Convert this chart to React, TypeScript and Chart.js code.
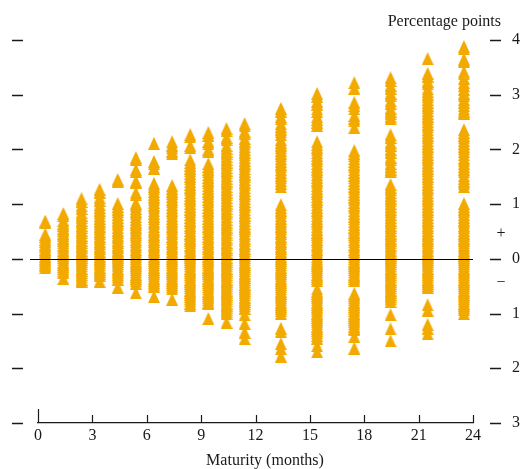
import React, { useEffect, useRef } from "react";
import { Chart, registerables } from "chart.js";
Chart.register(...registerables);

// Maturity (months) of each column of points
const maturities = [0.4, 1.4, 2.4, 3.4, 4.4, 5.4, 6.4, 7.4, 8.4, 9.4, 10.4, 11.4, 13.4, 15.4, 17.45, 19.45, 21.5, 23.5];

// Values (percentage points) in each column
const col01 = [0.69, 0.66, 0.45, 0.41, 0.36, 0.32, 0.27, 0.23, 0.18, 0.14, 0.1, 0.05, 0.01, -0.03, -0.07, -0.1, -0.13, -0.16];
const col02 = [0.83, 0.79, 0.7, 0.65, 0.61, 0.56, 0.52, 0.47, 0.43, 0.38, 0.34, 0.29, 0.25, 0.2, 0.16, 0.11, 0.07, 0.02, -0.02, -0.06, -0.1, -0.14, -0.18, -0.22, -0.25, -0.36];
const col03 = [1.1, 1.05, 0.97, 0.92, 0.84, 0.8, 0.75, 0.7, 0.66, 0.61, 0.57, 0.52, 0.48, 0.43, 0.39, 0.34, 0.3, 0.25, 0.21, 0.16, 0.12, 0.07, 0.03, -0.01, -0.05, -0.09, -0.13, -0.17, -0.21, -0.25, -0.29, -0.33, -0.37, -0.41];
const col04 = [1.27, 1.22, 1.12, 1.07, 0.99, 0.94, 0.89, 0.84, 0.79, 0.74, 0.69, 0.64, 0.6, 0.55, 0.5, 0.46, 0.41, 0.37, 0.32, 0.28, 0.23, 0.19, 0.14, 0.1, 0.05, 0.01, -0.03, -0.07, -0.11, -0.15, -0.19, -0.23, -0.27, -0.3, -0.41];
const col05 = [1.45, 1.42, 1.01, 0.96, 0.91, 0.86, 0.81, 0.76, 0.71, 0.66, 0.62, 0.57, 0.52, 0.48, 0.43, 0.39, 0.34, 0.3, 0.25, 0.21, 0.16, 0.12, 0.07, 0.03, -0.01, -0.05, -0.09, -0.13, -0.17, -0.21, -0.25, -0.29, -0.33, -0.37, -0.52];
const col06 = [1.85, 1.82, 1.63, 1.6, 1.42, 1.39, 1.21, 1.17, 1.02, 0.97, 0.92, 0.87, 0.82, 0.77, 0.72, 0.67, 0.63, 0.58, 0.53, 0.49, 0.44, 0.4, 0.35, 0.31, 0.26, 0.22, 0.17, 0.13, 0.08, 0.04, 0.0, -0.04, -0.08, -0.12, -0.16, -0.2, -0.24, -0.28, -0.32, -0.36, -0.4, -0.45, -0.62];
const col07 = [2.11, 1.78, 1.74, 1.66, 1.38, 1.33, 1.28, 1.23, 1.18, 1.13, 1.08, 1.03, 0.98, 0.93, 0.88, 0.83, 0.78, 0.73, 0.68, 0.64, 0.59, 0.54, 0.5, 0.45, 0.41, 0.36, 0.32, 0.27, 0.23, 0.18, 0.14, 0.09, 0.05, 0.01, -0.03, -0.07, -0.11, -0.15, -0.19, -0.23, -0.27, -0.31, -0.35, -0.39, -0.43, -0.47, -0.5, -0.69];
const col08 = [2.14, 2.08, 2.03, 1.97, 1.92, 1.34, 1.29, 1.24, 1.19, 1.14, 1.09, 1.04, 0.99, 0.94, 0.89, 0.84, 0.79, 0.74, 0.69, 0.64, 0.6, 0.55, 0.5, 0.46, 0.41, 0.37, 0.32, 0.28, 0.23, 0.19, 0.14, 0.1, 0.05, 0.01, -0.03, -0.07, -0.11, -0.15, -0.19, -0.23, -0.27, -0.31, -0.35, -0.39, -0.43, -0.47, -0.51, -0.55, -0.74];
const col09 = [2.27, 2.23, 2.07, 2.03, 1.81, 1.76, 1.71, 1.66, 1.61, 1.56, 1.51, 1.46, 1.41, 1.36, 1.31, 1.26, 1.21, 1.16, 1.11, 1.06, 1.01, 0.96, 0.91, 0.86, 0.81, 0.76, 0.71, 0.66, 0.61, 0.57, 0.52, 0.47, 0.43, 0.38, 0.34, 0.29, 0.25, 0.2, 0.16, 0.11, 0.07, 0.03, -0.01, -0.05, -0.09, -0.13, -0.17, -0.21, -0.25, -0.29, -0.33, -0.37, -0.41, -0.45, -0.49, -0.53, -0.57, -0.61, -0.65, -0.69, -0.73, -0.77, -0.81, -0.86];
const col10 = [2.31, 2.26, 2.15, 2.1, 2.0, 1.96, 1.74, 1.69, 1.64, 1.59, 1.54, 1.49, 1.44, 1.39, 1.34, 1.29, 1.24, 1.19, 1.14, 1.09, 1.04, 0.99, 0.94, 0.89, 0.84, 0.79, 0.74, 0.69, 0.64, 0.6, 0.55, 0.5, 0.46, 0.41, 0.37, 0.32, 0.28, 0.23, 0.19, 0.14, 0.1, 0.05, 0.01, -0.03, -0.07, -0.11, -0.15, -0.19, -0.23, -0.27, -0.31, -0.35, -0.39, -0.43, -0.47, -0.51, -0.55, -0.59, -0.63, -0.67, -0.71, -0.75, -0.79, -0.82, -1.09];
const col11 = [2.38, 2.34, 2.22, 2.18, 2.07, 2.02, 1.97, 1.92, 1.87, 1.82, 1.77, 1.72, 1.67, 1.62, 1.57, 1.52, 1.47, 1.42, 1.37, 1.32, 1.27, 1.22, 1.17, 1.12, 1.07, 1.02, 0.97, 0.92, 0.87, 0.82, 0.77, 0.72, 0.67, 0.62, 0.58, 0.53, 0.48, 0.44, 0.39, 0.35, 0.3, 0.26, 0.21, 0.17, 0.12, 0.08, 0.03, -0.01, -0.05, -0.09, -0.13, -0.17, -0.21, -0.25, -0.29, -0.33, -0.37, -0.41, -0.45, -0.49, -0.53, -0.57, -0.61, -0.65, -0.69, -0.73, -0.77, -0.81, -0.85, -0.89, -0.93, -0.97, -1.0, -1.16];
const col12 = [2.47, 2.43, 2.33, 2.29, 2.2, 2.15, 2.1, 2.05, 2.0, 1.95, 1.9, 1.85, 1.8, 1.75, 1.7, 1.65, 1.6, 1.55, 1.5, 1.45, 1.4, 1.35, 1.3, 1.25, 1.2, 1.15, 1.1, 1.05, 1.0, 0.95, 0.9, 0.85, 0.8, 0.75, 0.7, 0.65, 0.6, 0.56, 0.51, 0.46, 0.42, 0.37, 0.33, 0.28, 0.24, 0.19, 0.15, 0.1, 0.06, 0.02, -0.02, -0.06, -0.1, -0.14, -0.18, -0.22, -0.26, -0.3, -0.34, -0.38, -0.42, -0.46, -0.5, -0.54, -0.58, -0.62, -0.66, -0.7, -0.74, -0.78, -0.82, -0.86, -0.9, -1.02, -1.18, -1.34, -1.46];
const col13 = [2.75, 2.7, 2.6, 2.56, 2.47, 2.42, 2.37, 2.32, 2.27, 2.18, 2.13, 2.08, 2.03, 1.98, 1.93, 1.88, 1.83, 1.78, 1.73, 1.68, 1.63, 1.58, 1.53, 1.48, 1.43, 1.38, 1.32, 0.99, 0.94, 0.89, 0.84, 0.79, 0.74, 0.69, 0.64, 0.6, 0.55, 0.5, 0.46, 0.41, 0.37, 0.32, 0.28, 0.23, 0.19, 0.14, 0.1, 0.05, 0.01, -0.03, -0.07, -0.11, -0.15, -0.19, -0.23, -0.27, -0.31, -0.35, -0.39, -0.43, -0.47, -0.51, -0.55, -0.59, -0.63, -0.67, -0.71, -0.75, -0.79, -0.83, -0.87, -0.91, -0.95, -1.0, -1.27, -1.33, -1.55, -1.64, -1.78];
const col14 = [3.02, 2.97, 2.88, 2.83, 2.74, 2.69, 2.6, 2.55, 2.5, 2.44, 2.14, 2.09, 2.04, 1.99, 1.94, 1.89, 1.84, 1.79, 1.74, 1.69, 1.64, 1.59, 1.54, 1.49, 1.44, 1.39, 1.34, 1.29, 1.24, 1.19, 1.14, 1.09, 1.04, 0.99, 0.94, 0.89, 0.84, 0.79, 0.74, 0.69, 0.64, 0.59, 0.54, 0.49, 0.45, 0.4, 0.36, 0.31, 0.27, 0.22, 0.18, 0.13, 0.09, 0.04, 0.0, -0.04, -0.08, -0.12, -0.16, -0.2, -0.24, -0.28, -0.32, -0.36, -0.4, -0.55, -0.59, -0.63, -0.67, -0.71, -0.75, -0.79, -0.83, -0.87, -0.91, -0.95, -0.99, -1.03, -1.07, -1.11, -1.15, -1.19, -1.23, -1.27, -1.31, -1.35, -1.4, -1.45, -1.59, -1.7];
const col15 = [3.22, 3.12, 2.86, 2.8, 2.74, 2.62, 2.57, 2.52, 2.4, 1.98, 1.93, 1.88, 1.83, 1.78, 1.73, 1.68, 1.63, 1.58, 1.53, 1.48, 1.43, 1.38, 1.33, 1.28, 1.23, 1.18, 1.13, 1.08, 1.03, 0.98, 0.93, 0.88, 0.83, 0.78, 0.73, 0.68, 0.63, 0.58, 0.53, 0.49, 0.44, 0.4, 0.35, 0.31, 0.26, 0.22, 0.17, 0.13, 0.08, 0.04, 0.0, -0.04, -0.08, -0.12, -0.16, -0.2, -0.24, -0.28, -0.32, -0.36, -0.4, -0.63, -0.67, -0.71, -0.75, -0.79, -0.83, -0.87, -0.91, -0.95, -0.99, -1.03, -1.07, -1.11, -1.15, -1.19, -1.23, -1.27, -1.3, -1.42, -1.63];
const col16 = [3.31, 3.26, 3.17, 3.12, 3.03, 2.98, 2.89, 2.84, 2.75, 2.7, 2.65, 2.6, 2.56, 2.27, 2.22, 2.13, 2.08, 2.0, 1.95, 1.86, 1.81, 1.74, 1.69, 1.64, 1.6, 1.36, 1.31, 1.26, 1.21, 1.16, 1.11, 1.06, 1.01, 0.96, 0.91, 0.86, 0.81, 0.76, 0.71, 0.66, 0.61, 0.57, 0.52, 0.47, 0.43, 0.38, 0.34, 0.29, 0.25, 0.2, 0.16, 0.11, 0.07, 0.03, -0.01, -0.05, -0.09, -0.13, -0.17, -0.21, -0.25, -0.29, -0.33, -0.37, -0.41, -0.45, -0.49, -0.53, -0.57, -0.61, -0.65, -0.69, -0.73, -0.78, -1.02, -1.28, -1.5];
const col17 = [3.66, 3.39, 3.34, 3.25, 3.2, 3.11, 3.06, 3.01, 2.96, 2.91, 2.86, 2.81, 2.76, 2.71, 2.66, 2.61, 2.56, 2.51, 2.46, 2.41, 2.36, 2.31, 2.26, 2.21, 2.16, 2.11, 2.06, 2.01, 1.96, 1.91, 1.86, 1.81, 1.76, 1.71, 1.66, 1.61, 1.56, 1.51, 1.46, 1.41, 1.36, 1.31, 1.26, 1.21, 1.16, 1.11, 1.06, 1.01, 0.96, 0.91, 0.86, 0.81, 0.76, 0.71, 0.66, 0.61, 0.57, 0.52, 0.47, 0.43, 0.38, 0.34, 0.29, 0.25, 0.2, 0.16, 0.11, 0.07, 0.03, -0.01, -0.05, -0.09, -0.13, -0.17, -0.21, -0.25, -0.29, -0.33, -0.37, -0.41, -0.45, -0.49, -0.52, -0.84, -0.94, -1.2, -1.27, -1.37];
const col18 = [3.88, 3.84, 3.65, 3.61, 3.42, 3.38, 3.3, 3.22, 3.17, 3.1, 3.03, 2.98, 2.91, 2.86, 2.8, 2.74, 2.7, 2.66, 2.36, 2.31, 2.26, 2.21, 2.16, 2.11, 2.06, 2.01, 1.96, 1.9, 1.84, 1.79, 1.74, 1.69, 1.64, 1.59, 1.52, 1.47, 1.42, 1.37, 1.32, 1.01, 0.96, 0.91, 0.86, 0.81, 0.76, 0.71, 0.66, 0.61, 0.57, 0.52, 0.47, 0.43, 0.38, 0.34, 0.29, 0.25, 0.2, 0.16, 0.11, 0.07, 0.03, -0.01, -0.05, -0.09, -0.13, -0.17, -0.21, -0.25, -0.29, -0.33, -0.37, -0.41, -0.45, -0.49, -0.53, -0.57, -0.61, -0.65, -0.69, -0.73, -0.77, -0.81, -0.85, -0.89, -0.93, -1.0];

const columns = [col01, col02, col03, col04, col05, col06, col07, col08, col09, col10, col11, col12, col13, col14, col15, col16, col17, col18];

const xMin = 0;
const xMax = 24;
const xStep = 3;
const yMin = -3;
const yMax = 4;
const yStep = 1;
const yUnitLabel = "Percentage points";
const xTitle = "Maturity (months)";

const MARK = "#F2AA00";
const INK = "#1a1a1a";
const FONT = "'Liberation Serif', 'Times New Roman', serif";

function makeTriangle(color: string) {
  const c = document.createElement("canvas");
  c.width = 12;
  c.height = 13;
  const g = c.getContext("2d")!;
  g.fillStyle = color;
  g.beginPath();
  g.moveTo(6, 0);
  g.lineTo(12, 13);
  g.lineTo(0, 13);
  g.closePath();
  g.fill();
  return c;
}

const decor = {
  id: "decor",
  afterDatasetsDraw(chart: any) {
    const { ctx, chartArea, scales } = chart;
    const x = scales.x;
    const y = scales.y;
    ctx.save();
    // zero line
    const y0 = Math.round(y.getPixelForValue(0)) + 0.5;
    ctx.strokeStyle = "#000";
    ctx.lineWidth = 1.2;
    ctx.beginPath();
    ctx.moveTo(30, y0);
    ctx.lineTo(chartArea.right, y0);
    ctx.stroke();

    // inward x ticks
    ctx.strokeStyle = INK;
    ctx.lineWidth = 1.2;
    x.ticks.forEach((t: any) => {
      const px = Math.round(x.getPixelForValue(t.value)) + 0.5;
      const len = t.value === xMin ? 14 : 8;
      ctx.beginPath();
      ctx.moveTo(px, chartArea.bottom);
      ctx.lineTo(px, chartArea.bottom - len);
      ctx.stroke();
    });

    // y dashes on both sides
    ctx.lineWidth = 1.5;
    y.ticks.forEach((t: any) => {
      const py = Math.round(y.getPixelForValue(t.value)) + 0.5;
      ctx.beginPath();
      ctx.moveTo(12, py);
      ctx.lineTo(23, py);
      ctx.moveTo(chartArea.right + 17, py);
      ctx.lineTo(chartArea.right + 28, py);
      ctx.stroke();
    });

    // + / − signs
    ctx.fillStyle = INK;
    ctx.font = `16px ${FONT}`;
    ctx.textAlign = "center";
    ctx.textBaseline = "middle";
    ctx.fillText("+", chartArea.right + 28, y.getPixelForValue(0.46));
    ctx.fillText("−", chartArea.right + 28, y.getPixelForValue(-0.44));

    // unit label
    ctx.textAlign = "right";
    ctx.textBaseline = "alphabetic";
    ctx.fillText(yUnitLabel, chartArea.right + 28, 26);

    // x title
    ctx.textAlign = "center";
    ctx.fillText(xTitle, 265, 465);
    ctx.restore();
  },
};

export default function App() {
  const ref = useRef<HTMLCanvasElement>(null);
  useEffect(() => {
    const tri = makeTriangle(MARK);
    const points: { x: number; y: number }[] = [];
    columns.forEach((col, i) => col.forEach((v) => points.push({ x: maturities[i], y: v })));
    const chart = new Chart(ref.current!, {
      type: "scatter",
      data: {
        datasets: [
          {
            data: points,
            pointStyle: tri as any,
            pointRadius: 6,
            backgroundColor: MARK,
            borderColor: MARK,
            showLine: false,
          },
        ],
      },
      options: {
        animation: false,
        responsive: false,
        devicePixelRatio: 1,
        events: [],
        layout: { padding: { left: 38, top: 40, right: 0, bottom: 0 } },
        plugins: { legend: { display: false }, tooltip: { enabled: false } },
        scales: {
          x: {
            type: "linear",
            position: "bottom",
            min: xMin,
            max: xMax,
            afterFit: (s: any) => {
              s.height = 46;
              s.paddingLeft = 0;
              s.paddingRight = 0;
            },
            ticks: { stepSize: xStep, color: INK, font: { family: FONT, size: 16 }, padding: 3, maxRotation: 0 },
            grid: { display: true, drawOnChartArea: false, drawTicks: false },
            border: { display: true, color: INK, width: 1.2 },
          },
          y: {
            type: "linear",
            position: "right",
            min: yMin,
            max: yMax,
            afterFit: (s: any) => {
              s.width = 47;
              s.paddingTop = 0;
              s.paddingBottom = 0;
            },
            ticks: {
              stepSize: yStep,
              color: INK,
              font: { family: FONT, size: 16 },
              padding: 39,
              callback: (v: any) => String(Math.abs(Number(v))),
            },
            grid: { display: true, drawOnChartArea: false, drawTicks: false },
            border: { display: false },
          },
        },
      },
      plugins: [decor],
    });
    return () => chart.destroy();
  }, []);
  return (
    <div style={{ position: "fixed", left: 0, top: 0, width: 520, height: 469, background: "#fff" }}>
      <canvas ref={ref} width={520} height={469} style={{ width: 520, height: 469, display: "block" }} />
    </div>
  );
}
